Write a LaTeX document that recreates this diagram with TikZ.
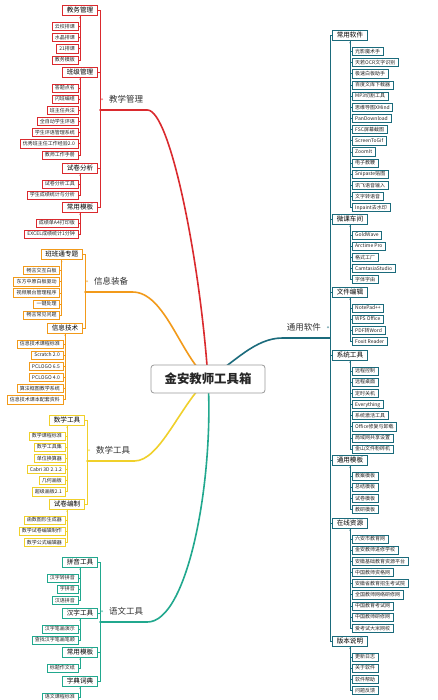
\documentclass[tikz,border=0pt]{standalone}
\usepackage{fontspec}
\setmainfont{Noto Sans CJK SC}
\usetikzlibrary{shadows, backgrounds}
\definecolor{mred}{HTML}{DA2A2E}
\definecolor{morange}{HTML}{F29A1A}
\definecolor{myellow}{HTML}{F0D02A}
\definecolor{mteal}{HTML}{21A88E}
\definecolor{mpetrol}{HTML}{1B6B7C}
\tikzset{
  titlebox/.style={
    draw=black!40,
    line width=0.8pt,
    fill=white,
    rounded corners=3pt,
    minimum width=114pt,
    minimum height=28pt,
    text=black!85,
    font=\fontsize{12.4}{14}\selectfont\bfseries,
  },
  catbox/.style={
    draw=#1,
    line width=0.9pt,
    fill=white,
    font=\fontsize{6.6}{7}\selectfont,
    inner xsep=4.3pt,
    inner ysep=0pt,
    minimum height=10pt,
    text height=5.8pt,
    text depth=0.9pt,
    drop shadow={shadow xshift=0.5pt, shadow yshift=-0.6pt, fill=black, opacity=0.12},
  },
  leafbox/.style={
    draw=#1,
    line width=0.5pt,
    fill=white,
    font=\fontsize{5}{6}\selectfont,
    inner xsep=3pt,
    inner ysep=0pt,
    minimum height=8.2pt,
    text height=4.4pt,
    text depth=0.8pt,
    text=black!85,
    drop shadow={shadow xshift=0.4pt, shadow yshift=-0.5pt, fill=black, opacity=0.08},
  },
  branchlbl/.style={
    font=\fontsize{8.5}{10}\selectfont,
    text=black!80,
    text width=39pt,
    inner xsep=4pt,
    inner ysep=6.5pt,
    text height=7.2pt,
    text depth=0.8pt,
  },
  trunk/.style={draw=#1, line width=0.75pt},
  stub/.style={draw=#1, line width=0.6pt},
  mainline/.style={draw=#1, line width=1.6pt, line cap=round},
}

\begin{document}
\begin{tikzpicture}[x=1pt, y=-1pt]
\useasboundingbox (0,0) rectangle (438,700);

% --- Centre topic ---
\node[titlebox] (title) at (208,379) {金安教师工具箱};

% --- 教学管理 (left, red) ---
\node[branchlbl, align=right, anchor=south west] (jiaoxue) at (100,110) {教学管理};
\node[catbox=mred, anchor=east] (jwgl) at (98,10.5) {教务管理};
\node[catbox=mred, anchor=east] (bjgl) at (98,72) {班级管理};
\node[catbox=mred, anchor=east] (sjfx) at (98,168) {试卷分析};
\node[catbox=mred, anchor=east] (jxmb) at (98,207) {常用模板};
\draw[trunk=mred] (jwgl.east) -- ++(2,0) |- (jxmb.east);
\foreach \c in {bjgl, sjfx} \draw[trunk=mred] (\c.east) -- ++(2,0);
\fill[mred!55] ([xshift=2pt]jiaoxue.west) circle (1.1);

\foreach \c/\items in {
  jwgl/{云校排课, 水晶排课, 21排课, 教务模板},
  bjgl/{答题点名, 闪班编组, 班主任兵法, 全自动学生评语, 学生评语管理系统, 优秀班主任工作经验2.0, 教师工作手册},
  sjfx/{试卷分析工具, 学生成绩统计与分析},
  jxmb/{成绩单A4打印版, EXCEL成绩统计1分钟}} {
  \fill[mred!55] ([yshift=-1.8pt]\c.south) circle (0.9);
  \foreach \lbl [count=\i] in \items {
    \node[leafbox=mred, anchor=east, xshift=-2pt, yshift={-4.85pt-11.15pt*\i}] (\c-\i) at (\c.center) {\lbl};
    \draw[stub=mred] (\c.south) |- (\c-\i.east);
  }
}

% --- 信息装备 (left, orange) ---
\node[branchlbl, align=right, anchor=south west] (xinxi) at (85,292) {信息装备};
\node[catbox=morange, anchor=east] (bbt) at (83,254.5) {班班通专题};
\node[catbox=morange, anchor=east] (xxjs) at (83,328) {信息技术};
\draw[trunk=morange] (bbt.east) -- ++(2,0) |- (xxjs.east);
\fill[morange!55] ([xshift=2pt]xinxi.west) circle (1.1);

\foreach \c/\items in {
  bbt/{畅言交互白板, 东方中原白板驱动, 视频展台管理程序, 一键处理, 畅言常见问题},
  xxjs/{信息技术课程标准, Scratch 2.0, PCLOGO 6.5, PCLOGO 4.0, 算法框图教学系统, 信息技术课本配套资料}} {
  \fill[morange!55] ([yshift=-1.8pt]\c.south) circle (0.9);
  \foreach \lbl [count=\i] in \items {
    \node[leafbox=morange, anchor=east, xshift=-2pt, yshift={-4.85pt-11.15pt*\i}] (\c-\i) at (\c.center) {\lbl};
    \draw[stub=morange] (\c.south) |- (\c-\i.east);
  }
}

% --- 数学工具 (left, yellow) ---
\node[branchlbl, align=right, anchor=south west] (shuxue) at (87,461) {数学工具};
\node[catbox=myellow, anchor=east] (sxgj) at (85,420) {数学工具};
\node[catbox=myellow, anchor=east] (sjbz) at (85,504) {试卷编制};
\draw[trunk=myellow] (sxgj.east) -- ++(2,0) |- (sjbz.east);
\fill[myellow!60] ([xshift=2pt]shuxue.west) circle (1.1);

\foreach \c/\items in {
  sxgj/{数学课程标准, 数学工具集, 单位换算器, Cabri 3D 2.1.2, 几何画板, 超级画板2.1},
  sjbz/{函数图形生成器, 数学试卷编辑制作, 数学公式编辑器}} {
  \fill[myellow!60] ([yshift=-1.8pt]\c.south) circle (0.9);
  \foreach \lbl [count=\i] in \items {
    \node[leafbox=myellow, anchor=east, xshift=-2pt, yshift={-4.85pt-11.15pt*\i}] (\c-\i) at (\c.center) {\lbl};
    \draw[stub=myellow] (\c.south) |- (\c-\i.east);
  }
}

% --- 语文工具 (left, teal) ---
\node[branchlbl, align=right, anchor=south west] (yuwen) at (100,622) {语文工具};
\node[catbox=mteal, anchor=east] (pygj) at (98,562) {拼音工具};
\node[catbox=mteal, anchor=east] (hzgj) at (98,613) {汉字工具};
\node[catbox=mteal, anchor=east] (ywmb) at (98,652) {常用模板};
\node[catbox=mteal, anchor=east] (zdcd) at (98,681) {字典词典};
\draw[trunk=mteal] (pygj.east) -- ++(2,0) |- (zdcd.east);
\foreach \c in {hzgj, ywmb} \draw[trunk=mteal] (\c.east) -- ++(2,0);
\fill[mteal!55] ([xshift=2pt]yuwen.west) circle (1.1);

\foreach \c/\items in {
  pygj/{汉字转拼音, 字拼音, 汉语拼音},
  hzgj/{汉字笔画演示, 查找汉字笔画笔顺},
  ywmb/{标题作文纸},
  zdcd/{语文课程标准}} {
  \fill[mteal!55] ([yshift=-1.8pt]\c.south) circle (0.9);
  \foreach \lbl [count=\i] in \items {
    \node[leafbox=mteal, anchor=east, xshift=-2pt, yshift={-4.85pt-11.15pt*\i}] (\c-\i) at (\c.center) {\lbl};
    \draw[stub=mteal] (\c.south) |- (\c-\i.east);
  }
}

% --- 通用软件 (right, petrol) ---
\node[branchlbl, align=left, anchor=south east] (tongyong) at (330,338) {通用软件};
\node[catbox=mpetrol, anchor=west] (cyrj) at (332,35.5) {常用软件};
\node[catbox=mpetrol, anchor=west] (wkcj) at (332,219) {微课车间};
\node[catbox=mpetrol, anchor=west] (wjbj) at (332,292) {文件编辑};
\node[catbox=mpetrol, anchor=west] (xtgj) at (332,355) {系统工具};
\node[catbox=mpetrol, anchor=west] (tymb) at (332,460) {通用模板};
\node[catbox=mpetrol, anchor=west] (zxzy) at (332,523) {在线资源};
\node[catbox=mpetrol, anchor=west] (bbsm) at (332,641) {版本说明};
\draw[trunk=mpetrol] (cyrj.west) -- ++(-2,0) |- (bbsm.west);
\foreach \c in {wkcj, wjbj, xtgj, tymb, zxzy} \draw[trunk=mpetrol] (\c.west) -- ++(-2,0);
\fill[mpetrol!55] ([xshift=-2pt]tongyong.east) circle (1.1);

\foreach \c/\items in {
  cyrj/{光影魔术手, 天若OCR文字识别, 极速白板助手, 百度文库下载器, MP3切割工具, 思维导图XMind, PanDownload, FSC屏幕截图, ScreenToGif, ZoomIt, 电子教鞭, Snipaste贴图, 讯飞语音输入, 文字转语音, Inpaint去水印},
  wkcj/{GoldWave, Arctime Pro, 格式工厂, CamtasiaStudio, 字体字由},
  wjbj/{NotePad++, WPS Office, PDF转Word, Foxit Reader},
  xtgj/{远程控制, 远程桌面, 定时关机, Everything, 系统激活工具, Office修复与卸载, 局域网共享设置, 金山文件粉碎机},
  tymb/{教案模板, 总结模板, 试卷模板, 教研模板},
  zxzy/{六安市教育网, 金安教师进修学校, 安徽基础教育资源平台, 中国教师资格网, 安徽省教育招生考试院, 全国教师网络研修网, 中国教育考试网, 中国教师研修网, 爱考试大米网校},
  bbsm/{更新日志, 关于软件, 软件帮助, 问题反馈}} {
  \fill[mpetrol!55] ([yshift=-1.8pt]\c.south) circle (0.9);
  \foreach \lbl [count=\i] in \items {
    \node[leafbox=mpetrol, anchor=west, xshift=2pt, yshift={-4.85pt-11.15pt*\i}] (\c-\i) at (\c.center) {\lbl};
    \draw[stub=mpetrol] (\c.south) |- (\c-\i.west);
  }
}

% --- Main branches (behind the centre topic) ---
\begin{scope}[on background layer]
  \fill[white] (0,0) rectangle (438,700);
  \draw[mainline=mred] (jiaoxue.south west) -- (jiaoxue.south east) .. controls (170,110) and (200,260) .. (title.center);
  \draw[mainline=morange] (xinxi.south west) -- (xinxi.south east) .. controls (165,292) and (180,355) .. (title.center);
  \draw[mainline=myellow] (shuxue.south west) -- (shuxue.south east) .. controls (160,461) and (180,405) .. (title.center);
  \draw[mainline=mteal] (yuwen.south west) -- (yuwen.south east) .. controls (188,622) and (214,480) .. (title.center);
  \draw[mainline=mpetrol] (tongyong.south east) -- (tongyong.south west) .. controls (255,338) and (235,362) .. (title.center);
\end{scope}

\end{tikzpicture}
\end{document}
